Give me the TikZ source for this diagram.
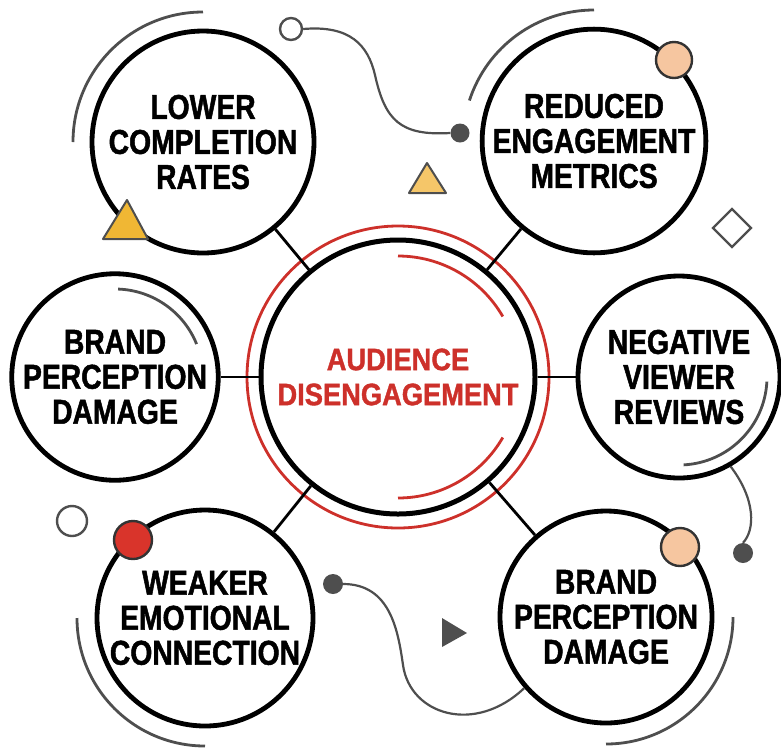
\documentclass[tikz,border=0pt]{standalone}
\usepackage{fontspec}
\usepackage{xcolor}
\usepackage{tikz}
\usetikzlibrary{positioning}

\newfontfamily\labelfont[FakeStretch=0.82, FakeBold=1.4]{Liberation Sans}
\newfontfamily\hubfont[FakeStretch=0.88, FakeBold=1.2]{Liberation Sans}
\definecolor{hubred}{RGB}{205,48,42}
\definecolor{inkgray}{RGB}{78,78,78}
\definecolor{peach}{RGB}{246,198,160}
\definecolor{mustard}{RGB}{240,183,52}
\definecolor{paleyellow}{RGB}{245,198,105}
\definecolor{dotred}{RGB}{217,52,43}

\begin{document}
\begin{tikzpicture}[
    x=1pt, y=1pt,
    on grid,
    % circle styles
    hub/.style={
        circle,
        draw=black,
        line width=5pt,
        fill=white,
        minimum size=274pt,
        inner sep=0pt,
        align=center,
        text=hubred,
        font=\hubfont\bfseries\fontsize{31}{35}\selectfont
    },
    effect/.style={
        circle,
        draw=black,
        line width=4.8pt,
        fill=white,
        inner sep=0pt,
        align=center,
        text=black,
        font=\labelfont\bfseries\fontsize{34.5}{35}\selectfont
    },
    bead/.style={circle, draw=black!80, line width=2.4pt, inner sep=0pt},
    hollow/.style={circle, draw=inkgray, line width=2.4pt, fill=white, inner sep=0pt},
    dot/.style={circle, fill=inkgray, inner sep=0pt},
    link/.style={draw, line width=2.8pt},
    ringline/.style={draw=hubred, line width=2.8pt},
    deco/.style={draw=inkgray, line width=2.8pt},
    wire/.style={draw=inkgray, line width=2.2pt}
]
    \useasboundingbox (0,0) rectangle (781,-748);

    % Nodes
    \node [hub] (hub) at (398,-377) {AUDIENCE\\DISENGAGEMENT};
    \node [effect, minimum size=222pt, above left=235pt and 195pt of hub] (lower) {LOWER\\COMPLETION\\RATES};
    \node [effect, minimum size=222pt, above right=236pt and 196pt of hub] (reduced) {REDUCED\\ENGAGEMENT\\METRICS};
    \node [effect, minimum size=202pt, left=283pt of hub] (brandl) {BRAND\\PERCEPTION\\DAMAGE};
    \node [effect, minimum size=202pt, right=281pt of hub] (negative) {NEGATIVE\\VIEWER\\REVIEWS};
    \node [effect, minimum size=216pt, below left=241pt and 193pt of hub] (weaker) {WEAKER\\EMOTIONAL\\CONNECTION};
    \node [effect, minimum size=212pt, below right=240pt and 208pt of hub] (brandr) {BRAND\\PERCEPTION\\DAMAGE};

    % Rings round the hub
    \draw [ringline] (hub.center) circle [radius=151];
    \draw [ringline] ([shift={(90:121)}]hub.center) arc [start angle=90, end angle=30, radius=121];
    \draw [ringline] ([shift={(-30:121)}]hub.center) arc [start angle=-30, end angle=-90, radius=121];

    % Paths (links)
    \path [link] (hub) -- (lower);
    \path [link] (hub) -- (reduced);
    \path [link] (hub) -- (brandl);
    \path [link] (hub) -- (negative);
    \path [link] (hub) -- (weaker);
    \path [link] (hub) -- (brandr);

    % Arcs
    \draw [deco] ([shift={(180:130)}]lower.center) arc [start angle=180, end angle=90, radius=130];
    \draw [deco] ([shift={(162:131)}]reduced.center) arc [start angle=162, end angle=90, radius=131];
    \draw [deco] ([shift={(88:88)}]brandl.center) arc [start angle=88, end angle=22, radius=88];
    \draw [deco] ([shift={(-3:88)}]negative.center) arc [start angle=-3, end angle=-87, radius=88];
    \draw [deco] ([shift={(180:128)}]weaker.center) arc [start angle=180, end angle=270, radius=128];
    \draw [deco] ([shift={(0:127)}]brandr.center) arc [start angle=0, end angle=-90, radius=127];

    % Small marks
    \node [hollow, minimum size=22pt] (ringtop) at (291,-29) {};
    \node [dot, minimum size=19pt] (dottop) at (460,-133) {};
    \draw [wire] (ringtop.east) .. controls (350,-25) and (368,-45) .. (375,-75)
        .. controls (385,-120) and (400,-136) .. (dottop.west);

    \node [dot, minimum size=20pt] (dotright) at (743,-553) {};
    \draw [wire] (negative.-60) .. controls (756,-500) and (755,-530) .. (dotright.north);

    \node [dot, minimum size=20pt] (dotlow) at (333,-584) {};
    \draw [wire] (dotlow.east) .. controls (390,-584) and (398,-630) .. (403,-665)
        .. controls (410,-715) and (475,-735) .. (brandr.221);

    \node [hollow, minimum size=30pt] (ringlow) at (72,-521) {};
    \node [bead, fill=dotred, minimum size=38pt] (redbead) at (133,-540) {};
    \node [bead, fill=peach, minimum size=36pt] (peachtop) at (674,-60) {};
    \node [bead, fill=peach, minimum size=38pt] (peachlow) at (680,-547) {};

    \filldraw [fill=mustard, draw=inkgray, line width=2pt, line join=round]
        (127,-200) -- (103,-239) -- (148,-239) -- cycle;
    \filldraw [fill=paleyellow, draw=inkgray, line width=2pt, line join=round]
        (427,-163) -- (409,-193) -- (446,-193) -- cycle;
    \draw [wire, line join=miter] (732,-209) -- (751,-228) -- (732,-247) -- (713,-228) -- cycle;
    \fill [inkgray] (442,-618) -- (467,-633) -- (442,-647) -- cycle;
\end{tikzpicture}
\end{document}
